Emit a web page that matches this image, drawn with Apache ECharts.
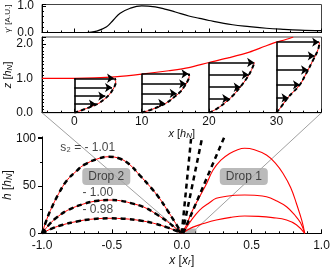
<!DOCTYPE html>
<html><head><meta charset="utf-8">
<script src="https://cdn.jsdelivr.net/npm/echarts@6/dist/echarts.min.js"></script>
<style>html,body{margin:0;padding:0;background:#fff}#c{width:332px;height:269px}</style>
</head><body><div id="c"></div>
<script>
// ---------- top panel: gamma' ----------
const gammaX = [-4.8, 0, 1.3, 2.2, 3.3, 4.8, 5.8, 6.8, 8.3, 10, 12, 13.6, 15, 17, 18.6, 20, 23.5, 26, 28.5, 31, 33.5, 36.7];
const gammaY = [0, 0, 0, 0.01, 0.05, 0.215, 0.47, 0.72, 0.91, 1.0, 0.96, 0.87, 0.77, 0.62, 0.53, 0.45, 0.29, 0.22, 0.16, 0.12, 0.09, 0.07];

// ---------- middle panel: surface and velocity profiles ----------
const surfaceX = [-4.8, 0, 3, 6, 10, 14, 17, 20, 23, 26, 28.3, 30, 31.3, 32.5];
const surfaceZ = [1.0, 1.0, 1.01, 1.04, 1.12, 1.22, 1.31, 1.46, 1.6, 1.76, 1.93, 2.05, 2.12, 2.2];

const profileBase = [0, 10, 20, 30];
const profileTop = [1.0, 1.13, 1.46, 2.05];
const profile0X = [0, 1.2, 2.4, 3.6, 4.5, 5.2, 5.7, 6.05, 6.15, 6.0];
const profile0Z = [0, 0.08, 0.17, 0.27, 0.4, 0.53, 0.67, 0.8, 0.9, 1.0];
const profile1X = [10, 11.3, 12.6, 13.8, 14.8, 15.7, 16.4, 16.9, 17.05, 17.0];
const profile1Z = [0, 0.08, 0.18, 0.3, 0.45, 0.6, 0.78, 0.95, 1.05, 1.13];
const profile2X = [20, 21.2, 22.5, 23.7, 24.8, 25.6, 26.25, 26.75];
const profile2Z = [0, 0.12, 0.31, 0.53, 0.79, 1.0, 1.22, 1.46];
const profile3X = [30, 30.7, 31.8, 33.4, 34.4, 35.4, 36.2, 36.4];
const profile3Z = [0, 0.17, 0.46, 0.79, 1.13, 1.51, 1.84, 2.05];

const arrow0Z = [1.0, 0.73, 0.48, 0.25];
const arrow0Tip = [5.9, 5.6, 4.6, 3.2];
const arrow1Z = [1.13, 0.84, 0.56, 0.27];
const arrow1Tip = [16.95, 16.6, 15.2, 13.5];
const arrow2Z = [1.46, 1.10, 0.74, 0.41];
const arrow2Tip = [26.7, 25.9, 24.7, 23.0];
const arrow3Z = [2.05, 1.65, 1.24, 0.81, 0.43];
const arrow3Tip = [36.35, 35.7, 34.7, 33.5, 31.8];

// ---------- bottom panel: drop shapes ----------
const arcL1X = [-1, -0.97, -0.94, -0.88, -0.82, -0.75, -0.7, -0.6, -0.52, -0.44, -0.37, -0.3, -0.226, -0.16, -0.106, -0.05, 0];
const arcL1Y = [0, 13, 24, 42, 56, 66, 72, 78.5, 80.6, 78.5, 72, 61, 49, 37, 25, 12, 0];
const arcL2X = [-1, -0.95, -0.9, -0.82, -0.7, -0.6, -0.52, -0.44, -0.37, -0.27, -0.18, -0.1, -0.05, 0];
const arcL2Y = [0, 9, 16, 24, 31, 34.3, 35, 34.3, 32, 27.5, 20, 12, 6, 0];
const arcL3X = [-1, -0.93, -0.85, -0.75, -0.65, -0.52, -0.4, -0.3, -0.2, -0.1, -0.04, 0];
const arcL3Y = [0, 5, 9, 12.5, 14.8, 15.8, 15.2, 13.5, 10.5, 6, 2.6, 0];

const steepX = [[0.0, 0.068], [0.005, 0.147], [0.01, 0.305]];
const steepY = [[0, 101.5], [0, 101.5], [0, 101.5]];

const arcR1X = [0, 0.015, 0.032, 0.07, 0.128, 0.18, 0.224, 0.28, 0.343, 0.4, 0.45, 0.52, 0.606, 0.67, 0.725, 0.78, 0.82, 0.86, 0.88];
const arcR1Y = [0, 4, 8, 22, 38.5, 53, 66.6, 77, 84, 88, 89.5, 88, 82.4, 74, 63, 48, 31.6, 13, 0];
const arcR2X = [0, 0.02, 0.06, 0.128, 0.2, 0.247, 0.32, 0.38, 0.45, 0.52, 0.606, 0.68, 0.75, 0.81, 0.85, 0.88];
const arcR2Y = [0, 3, 12, 24.5, 32.5, 36.8, 39, 40, 40.3, 40, 38.5, 34, 28, 19, 11, 0];
const arcR3X = [0, 0.03, 0.08, 0.15, 0.247, 0.35, 0.45, 0.55, 0.65, 0.75, 0.82, 0.88];
const arcR3Y = [0, 2.5, 6.5, 10, 14, 16.8, 18.2, 17.8, 16.5, 14, 9, 0];

const zoomBoxX = [-0.035, 0.105];
const zoomBoxY = [0, 5];

const s2Labels = ['s₂ = - 1.01', '- 1.00', '- 0.98'];
const s2LabelX = [-0.87, -0.71, -0.71];
const s2LabelY = [89.8, 42.4, 24.5];
const dropLabels = ['Drop 2', 'Drop 1'];
const dropLabelX = [-0.54, 0.444];
const dropLabelY = [59.8, 59.8];

// ---------- build ----------
const FONT = 'Liberation Sans, Arial, sans-serif';
const zip = (a, b) => a.map((v, i) => [v, b[i]]);
const midMin = -4.8, midMax = 36.7;

const series = [];
series.push({type: 'line', xAxisIndex: 0, yAxisIndex: 0, data: zip(gammaX, gammaY), smooth: 0.4, showSymbol: false, lineStyle: {color: '#000', width: 1.2}, silent: true});
series.push({type: 'line', xAxisIndex: 1, yAxisIndex: 1, data: zip(surfaceX, surfaceZ), smooth: 0.3, showSymbol: false, lineStyle: {color: '#f00', width: 1.2}, silent: true, z: 3});
const profX = [profile0X, profile1X, profile2X, profile3X];
const profZ = [profile0Z, profile1Z, profile2Z, profile3Z];
const arrZ = [arrow0Z, arrow1Z, arrow2Z, arrow3Z];
const arrTip = [arrow0Tip, arrow1Tip, arrow2Tip, arrow3Tip];
const verticals = [], arrows = [];
profileBase.forEach((b, i) => {
  verticals.push({coords: [[b, 0], [b, profileTop[i]]]});
  arrZ[i].forEach((z, k) => arrows.push({coords: [[b, z], [arrTip[i][k], z]]}));
  series.push({type: 'line', xAxisIndex: 1, yAxisIndex: 1, data: zip(profX[i], profZ[i]), smooth: 0.4, showSymbol: false, lineStyle: {color: '#f00', width: 1}, silent: true, z: 4});
  series.push({type: 'line', xAxisIndex: 1, yAxisIndex: 1, data: zip(profX[i], profZ[i]), smooth: 0.4, showSymbol: false, lineStyle: {color: '#000', width: 2, type: [4, 3]}, silent: true, z: 5});
});
series.push({type: 'lines', coordinateSystem: 'cartesian2d', xAxisIndex: 1, yAxisIndex: 1, data: verticals, lineStyle: {color: '#000', width: 1.6, opacity: 1}, silent: true, z: 6});
series.push({type: 'lines', coordinateSystem: 'cartesian2d', xAxisIndex: 1, yAxisIndex: 1, data: arrows, symbol: ['none', 'arrow'], symbolSize: 7, lineStyle: {color: '#000', width: 1.6, opacity: 1}, silent: true, z: 6});

const leftArcs = [[arcL1X, arcL1Y], [arcL2X, arcL2Y], [arcL3X, arcL3Y]];
leftArcs.forEach(([xs, ys]) => {
  series.push({type: 'line', xAxisIndex: 2, yAxisIndex: 2, data: zip(xs, ys), smooth: 0.4, showSymbol: false, lineStyle: {color: '#f00', width: 1}, silent: true, z: 3});
  series.push({type: 'line', xAxisIndex: 2, yAxisIndex: 2, data: zip(xs, ys), smooth: 0.4, showSymbol: false, lineStyle: {color: '#000', width: 2.5, type: [5, 4]}, silent: true, z: 4});
});
steepX.forEach((xs, i) => {
  series.push({type: 'line', xAxisIndex: 2, yAxisIndex: 2, data: zip(xs, steepY[i]), showSymbol: false, lineStyle: {color: '#000', width: 2.5, type: [5, 4]}, silent: true, z: 4});
});
[[arcR1X, arcR1Y], [arcR2X, arcR2Y], [arcR3X, arcR3Y]].forEach(([xs, ys]) => {
  series.push({type: 'line', xAxisIndex: 2, yAxisIndex: 2, data: zip(xs, ys), smooth: 0.4, showSymbol: false, lineStyle: {color: '#f00', width: 1.1}, silent: true, z: 3});
});
series.push({type: 'line', xAxisIndex: 2, yAxisIndex: 2, data: [], silent: true,
  markArea: {silent: true, itemStyle: {color: 'rgba(120,120,120,0.55)'}, data: [[{coord: [zoomBoxX[0], zoomBoxY[0]]}, {coord: [zoomBoxX[1], zoomBoxY[1]]}]]}});
series.push({type: 'scatter', xAxisIndex: 2, yAxisIndex: 2, symbolSize: 0, silent: true, z: 10,
  data: s2Labels.map((t, i) => ({value: [s2LabelX[i], s2LabelY[i]], name: t})),
  label: {show: true, position: 'right', distance: 0, formatter: p => p.name, fontFamily: FONT, fontSize: 12, color: '#111'}});
series.push({type: 'scatter', xAxisIndex: 2, yAxisIndex: 2, symbolSize: 0, silent: true, z: 10,
  data: dropLabels.map((t, i) => ({value: [dropLabelX[i], dropLabelY[i]], name: t})),
  label: {show: true, position: 'inside', formatter: p => p.name, fontFamily: FONT, fontSize: 12, color: '#222',
    backgroundColor: '#a9a9a9', borderRadius: 4, padding: [3, 6, 2, 6]}});

const tickLbl = {fontFamily: FONT, fontSize: 12, color: '#111'};
const nameStyle = (size) => ({fontFamily: FONT, fontSize: size, color: '#111',
  rich: {i: {fontStyle: 'italic', fontFamily: FONT, fontSize: size, color: '#111'},
         s: {fontStyle: 'italic', fontFamily: FONT, fontSize: size - 3, color: '#111', verticalAlign: 'bottom', padding: [4, 0, 0, 0]},
         n: {fontFamily: FONT, fontSize: size, color: '#111'}}});
const tens = v => (Math.abs(v % 10) < 1e-6 ? String(Math.round(v)) : '');
const AL = {onZero: false, lineStyle: {color: '#000'}};

const gridBase = {containLabel: false, outerBoundsMode: 'none'};
const option = {
  animation: false,
  grid: [
    Object.assign({left: 42, top: 4.5, width: 279.5, height: 28, show: true, borderColor: '#444', borderWidth: 1}, gridBase),
    Object.assign({left: 42, top: 37, width: 279.5, height: 75.7, show: true, borderColor: '#444', borderWidth: 1}, gridBase),
    Object.assign({left: 42, top: 136.9, width: 279.5, height: 96.4}, gridBase)
  ],
  xAxis: [
    {gridIndex: 0, type: 'value', min: midMin, max: midMax, splitNumber: 4, splitLine: {show: false},
     axisLine: AL, axisTick: {inside: true, length: 4, lineStyle: {color: '#000'}},
     minorTick: {show: true, splitNumber: 5, length: 2, lineStyle: {color: '#000'}}, axisLabel: {show: false}},
    {gridIndex: 1, type: 'value', min: midMin, max: midMax, splitNumber: 4, splitLine: {show: false},
     axisLine: AL, axisTick: {inside: true, length: 4, lineStyle: {color: '#000'}},
     minorTick: {show: true, splitNumber: 5, length: 2, lineStyle: {color: '#000'}},
     axisLabel: Object.assign({margin: 3, formatter: tens, showMinLabel: false, showMaxLabel: false}, tickLbl),
     name: '{i|x} {n|[}{i|h}{s|N}{n|]}', nameLocation: 'middle', nameGap: 15, nameMoveOverlap: false, nameTextStyle: nameStyle(11)},
    {gridIndex: 2, type: 'value', min: -1, max: 1, interval: 0.5, splitLine: {show: false},
     axisLine: AL, axisTick: {inside: true, length: 4, lineStyle: {color: '#000'}},
     minorTick: {show: true, splitNumber: 5, length: 2, lineStyle: {color: '#000'}},
     axisLabel: Object.assign({margin: 6, formatter: v => v.toFixed(1)}, tickLbl),
     name: '{i|x} {n|[}{i|x}{s|r}{n|]}', nameLocation: 'middle', nameGap: 21, nameMoveOverlap: false, nameTextStyle: nameStyle(12)}
  ],
  yAxis: [
    {gridIndex: 0, type: 'value', min: 0, max: 1.05, interval: 1, splitLine: {show: false},
     axisLine: AL, axisTick: {inside: true, length: 4, lineStyle: {color: '#000'}},
     minorTick: {show: true, splitNumber: 5, length: 2, lineStyle: {color: '#000'}},
     axisLabel: Object.assign({margin: 8, showMaxLabel: false, formatter: v => (Math.abs(v - Math.round(v)) < 1e-6 ? v.toFixed(1) : '')}, tickLbl),
     name: "γ' [A.U.]", nameLocation: 'middle', nameGap: 30, nameMoveOverlap: false, nameRotate: 90, nameTextStyle: {fontFamily: FONT, fontSize: 8, color: '#111'}},
    {gridIndex: 1, type: 'value', min: 0, max: 2.2, interval: 1, splitLine: {show: false},
     axisLine: AL, axisTick: {inside: true, length: 4, lineStyle: {color: '#000'}},
     minorTick: {show: true, splitNumber: 10, length: 2, lineStyle: {color: '#000'}},
     axisLabel: Object.assign({margin: 9, showMaxLabel: false, formatter: v => (Math.abs(v - Math.round(v)) < 1e-6 ? v.toFixed(1) : '')}, tickLbl),
     name: '{i|z} {n|[}{i|h}{s|N}{n|]}', nameLocation: 'middle', nameGap: 28, nameMoveOverlap: false, nameRotate: 90, nameTextStyle: nameStyle(11)},
    {gridIndex: 2, type: 'value', min: 0, max: 101.5, interval: 50, splitLine: {show: false},
     axisLine: AL, axisTick: {inside: false, length: 4, lineStyle: {color: '#000'}},
     minorTick: {show: true, splitNumber: 2, length: 2, lineStyle: {color: '#000'}},
     axisLabel: Object.assign({margin: 6, showMaxLabel: false, formatter: v => (v % 50 === 0 ? String(v) : '')}, tickLbl),
     name: '{i|h} {n|[}{i|h}{s|N}{n|]}', nameLocation: 'middle', nameGap: 28, nameMoveOverlap: false, nameRotate: 90, nameTextStyle: nameStyle(12)}
  ],
  series: series
};

const chart = echarts.init(document.getElementById('c'), null, {renderer: 'canvas'});
chart.setOption(option);
const pA = chart.convertToPixel({gridIndex: 1}, [midMin, 0]);
const pB = chart.convertToPixel({gridIndex: 1}, [midMax, 0]);
const pC = chart.convertToPixel({gridIndex: 2}, [zoomBoxX[0], zoomBoxY[1]]);
const pD = chart.convertToPixel({gridIndex: 2}, [zoomBoxX[1], zoomBoxY[1]]);
chart.setOption({graphic: [
  {type: 'line', shape: {x1: pA[0], y1: pA[1], x2: pC[0], y2: pC[1]}, style: {stroke: '#888', lineWidth: 0.8}, z: 1, silent: true},
  {type: 'line', shape: {x1: pB[0], y1: pB[1], x2: pD[0], y2: pD[1]}, style: {stroke: '#888', lineWidth: 0.8}, z: 1, silent: true}
]});
</script></body></html>
